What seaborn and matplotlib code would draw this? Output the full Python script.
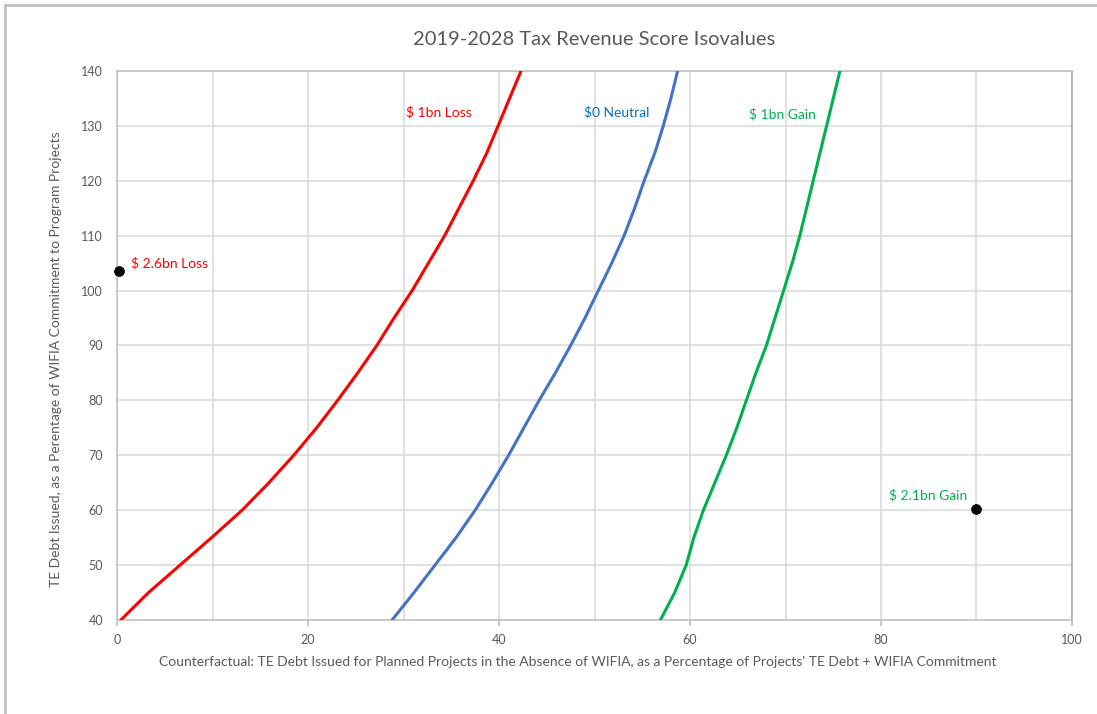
"""
Tax revenue score isovalues chart (Excel look-alike).
"""
import matplotlib
matplotlib.use("Agg")
import matplotlib.pyplot as plt
from matplotlib.patches import Rectangle
from matplotlib.ticker import MultipleLocator
import pandas as pd
import seaborn as sns

sns.set_theme(style="white")
plt.rcParams['font.family'] = ['Lato', 'DejaVu Sans']

# isovalue curves (x = counterfactual %, y = TE debt %)
y_levels = [40, 45, 50, 55, 60, 65, 70, 75, 80, 85, 90,
            95, 100, 105, 110, 115, 120, 125, 130, 135, 140]
loss_1bn_x = [0.4, 3.3, 6.6, 9.9, 13.1, 15.9, 18.5, 20.9, 23.1, 25.2, 27.2,
              29.0, 30.9, 32.6, 34.3, 35.8, 37.3, 38.7, 39.9, 41.1, 42.3]
neutral_x = [28.8, 31.1, 33.3, 35.5, 37.5, 39.3, 41.0, 42.6, 44.2, 45.9, 47.5,
             49.0, 50.4, 51.8, 53.1, 54.2, 55.2, 56.3, 57.2, 58.0, 58.7]
gain_1bn_x = [56.9, 58.4, 59.6, 60.4, 61.4, 62.6, 63.8, 64.9, 65.9, 66.9, 68.0,
              68.9, 69.8, 70.7, 71.5, 72.2, 72.9, 73.6, 74.3, 75.0, 75.7]

# two scenario points
point_x = [0.2, 90.0]
point_y = [103.5, 60.2]

RED = '#FF0000'
BLUE = '#4472C4'
GREEN = '#00B050'
GRAY_TXT = '#595959'
GRID = '#D9D9D9'

df = pd.concat([
    pd.DataFrame({'x': loss_1bn_x, 'y': y_levels, 'curve': '$ 1bn Loss'}),
    pd.DataFrame({'x': neutral_x, 'y': y_levels, 'curve': '$0 Neutral'}),
    pd.DataFrame({'x': gain_1bn_x, 'y': y_levels, 'curve': '$ 1bn Gain'}),
])
df_pts = pd.DataFrame({'x': point_x, 'y': point_y})

fig = plt.figure(figsize=(10.97, 7.14), dpi=100)
ax = fig.add_axes([0.1067, 0.1317, 0.8705, 0.7689])

# chart border (cropped on right / bottom like the screenshot)
fig.patches.append(Rectangle((5 / 1097, -0.05), 1.2, 1 - 5 / 714 + 0.05,
                             transform=fig.transFigure, fill=False,
                             edgecolor='#BFBFBF', linewidth=2))

sns.lineplot(data=df, x='x', y='y', hue='curve', sort=False, estimator=None,
             palette={'$ 1bn Loss': RED, '$0 Neutral': BLUE, '$ 1bn Gain': GREEN},
             linewidth=2.2, legend=False, ax=ax, zorder=3)
sns.scatterplot(data=df_pts, x='x', y='y', color='black', s=50, edgecolor='black',
                ax=ax, zorder=4, clip_on=False)

ax.set_xlim(0, 100)
ax.set_ylim(40, 140)
ax.xaxis.set_major_locator(MultipleLocator(20))
ax.xaxis.set_minor_locator(MultipleLocator(10))
ax.yaxis.set_major_locator(MultipleLocator(10))
ax.grid(which='both', color=GRID, linewidth=1.1)
ax.set_axisbelow(True)
for side, sp in ax.spines.items():
    sp.set_color('#BFBFBF' if side != 'right' else '#A6A6A6')
    sp.set_linewidth(1.1)
ax.tick_params(axis='x', which='major', bottom=True, length=4, color='#BFBFBF',
               labelsize=9, labelcolor=GRAY_TXT, pad=6)
ax.tick_params(axis='x', which='minor', bottom=False)
ax.tick_params(axis='y', left=False, length=0, labelsize=9, labelcolor=GRAY_TXT, pad=10)

ax.set_title('2019-2028 Tax Revenue Score Isovalues', fontsize=14.5, color=GRAY_TXT, pad=19)
ax.set_xlabel("Counterfactual: TE Debt Issued for Planned Projects in the Absence of WIFIA, "
              "as a Percentage of Projects' TE Debt + WIFIA Commitment",
              fontsize=10, color=GRAY_TXT)
ax.set_ylabel('TE Debt Issued, as a Perentage of WIFIA Commitment to Program Projects',
              fontsize=10, color=GRAY_TXT)
ax.xaxis.set_label_coords(0.482, -0.066)
ax.yaxis.set_label_coords(-0.058, 0.475)

# curve and point labels
ax.text(30.3, 132.5, '$ 1bn Loss', color=RED, fontsize=10, va='center')
ax.text(48.9, 132.4, '$0 Neutral', color='#0070C0', fontsize=10, va='center')
ax.text(66.2, 132.2, '$ 1bn Gain', color=GREEN, fontsize=10, va='center')
ax.text(1.5, 105.0, '$ 2.6bn Loss', color=RED, fontsize=10, va='center')
ax.text(89.0, 62.7, '$ 2.1bn Gain', color=GREEN, fontsize=10, va='center', ha='right')

plt.savefig('out.png', dpi=100, facecolor='white')
